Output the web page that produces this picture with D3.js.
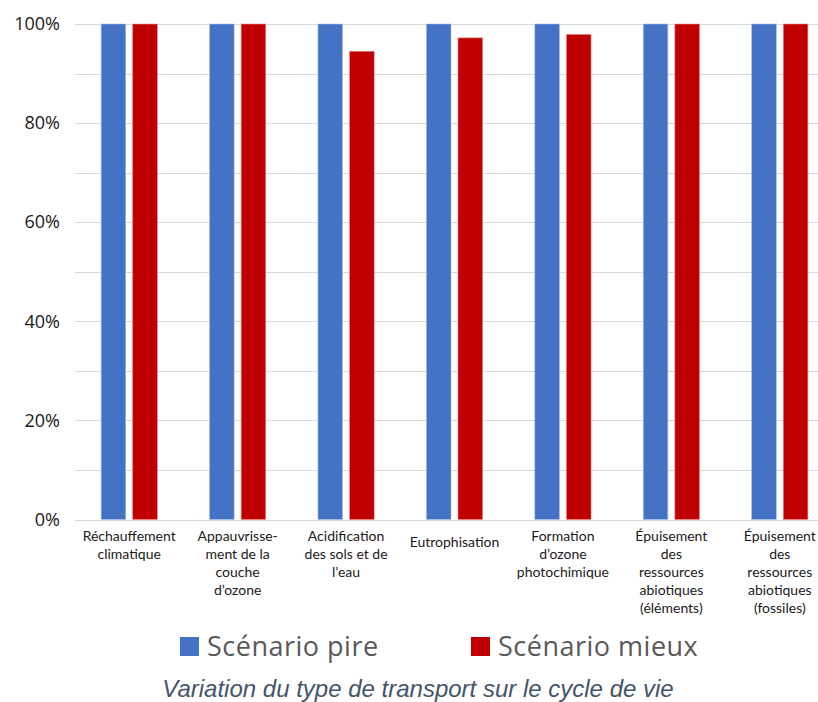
<!DOCTYPE html>
<html>
<head>
  <meta charset="utf-8">
  <title>Variation du type de transport</title>
  <script src="https://cdn.jsdelivr.net/npm/d3@7"></script>
  <style>
    body { margin: 0; background: #fff; }
  </style>
</head>
<body>
  <script>
    // categories (line breaks as in the picture)
    var categories = [
      ["Réchauffement", "climatique"],
      ["Appauvrisse-", "ment de la", "couche", "d’ozone"],
      ["Acidification", "des sols et de", "l’eau"],
      ["Eutrophisation"],
      ["Formation", "d’ozone", "photochimique"],
      ["Épuisement", "des", "ressources", "abiotiques", "(éléments)"],
      ["Épuisement", "des", "ressources", "abiotiques", "(fossiles)"]
    ];
    var pire = [100, 100, 100, 100, 100, 100, 100];
    var mieux = [100, 100, 94.5, 97.2, 97.9, 100, 100];
    var seriesNames = ["Scénario pire", "Scénario mieux"];
    var colors = ["#4472C4", "#C00000"];
    var yTicks = [0, 20, 40, 60, 80, 100];
    var caption = "Variation du type de transport sur le cycle de vie";

    var w = 818, h = 702;
    var svg = d3.select("body").append("svg")
      .attr("width", w)
      .attr("height", h);

    var x = d3.scaleBand()
      .domain(d3.range(categories.length))
      .range([75, 834]);

    var y = d3.scaleLinear()
      .domain([0, 100])
      .range([519.5, 24]);

    // gridlines every 10%
    svg.append("g").selectAll("line")
      .data(d3.range(0, 101, 10))
      .enter().append("line")
      .attr("x1", 75).attr("x2", w)
      .attr("y1", function(d) { return Math.round(y(d)) + 0.5; })
      .attr("y2", function(d) { return Math.round(y(d)) + 0.5; })
      .attr("stroke", "#d9d9d9")
      .attr("stroke-width", 1.2);

    // y axis labels
    var yAxis = d3.axisLeft(y)
      .tickValues(yTicks)
      .tickSize(0)
      .tickPadding(0)
      .tickFormat(function(d) { return d + "%"; });
    var yg = svg.append("g")
      .attr("transform", "translate(60,0)")
      .call(yAxis);
    yg.select(".domain").remove();
    yg.selectAll("text")
      .attr("font-family", "Open Sans, sans-serif")
      .attr("font-size", 18)
      .attr("fill", "#1a1a1a");

    // bars
    var barW = 24.6, gap = 7;
    var series = [pire, mieux];
    series.forEach(function(vals, s) {
      svg.append("g").selectAll("rect")
        .data(vals)
        .enter().append("rect")
        .attr("x", function(d, i) {
          var c = x(i) + x.bandwidth() / 2;
          return s === 0 ? c - gap / 2 - barW : c + gap / 2;
        })
        .attr("y", function(d) { return y(d); })
        .attr("width", barW)
        .attr("height", function(d) { return y(0) - y(d); })
        .attr("fill", colors[s])
        .attr("stroke", s === 0 ? "#a9bde6" : "#e88a8a")
        .attr("stroke-width", 0.6);
    });

    // category labels
    var xg = svg.append("g");
    categories.forEach(function(lines, i) {
      var t = xg.append("text")
        .attr("x", x(i) + x.bandwidth() / 2)
        .attr("y", 541)
        .attr("text-anchor", "middle")
        .attr("font-family", "Lato, sans-serif")
        .attr("font-size", 14)
        .attr("fill", "#1a1a1a");
      lines.forEach(function(l, k) {
        t.append("tspan")
          .attr("x", x(i) + x.bandwidth() / 2)
          .attr("dy", k === 0 ? (lines.length === 1 ? 6 : 0) : 18)
          .text(l);
      });
    });

    // legend
    var legendX = [180, 471];
    seriesNames.forEach(function(name, s) {
      svg.append("rect")
        .attr("x", legendX[s]).attr("y", 637)
        .attr("width", 19).attr("height", 19)
        .attr("fill", colors[s]);
      svg.append("text")
        .attr("x", legendX[s] + 27).attr("y", 647)
        .attr("dy", "0.35em")
        .attr("font-family", "Open Sans, sans-serif")
        .attr("font-size", 27)
        .attr("letter-spacing", 0.5)
        .attr("fill", "#595959")
        .text(name);
    });

    // caption
    svg.append("text")
      .attr("x", 418).attr("y", 697)
      .attr("text-anchor", "middle")
      .attr("font-family", "Liberation Sans, Arial, sans-serif")
      .attr("font-style", "italic")
      .attr("font-size", 24)
      .attr("fill", "#44546A")
      .text(caption);
  </script>
</body>
</html>
